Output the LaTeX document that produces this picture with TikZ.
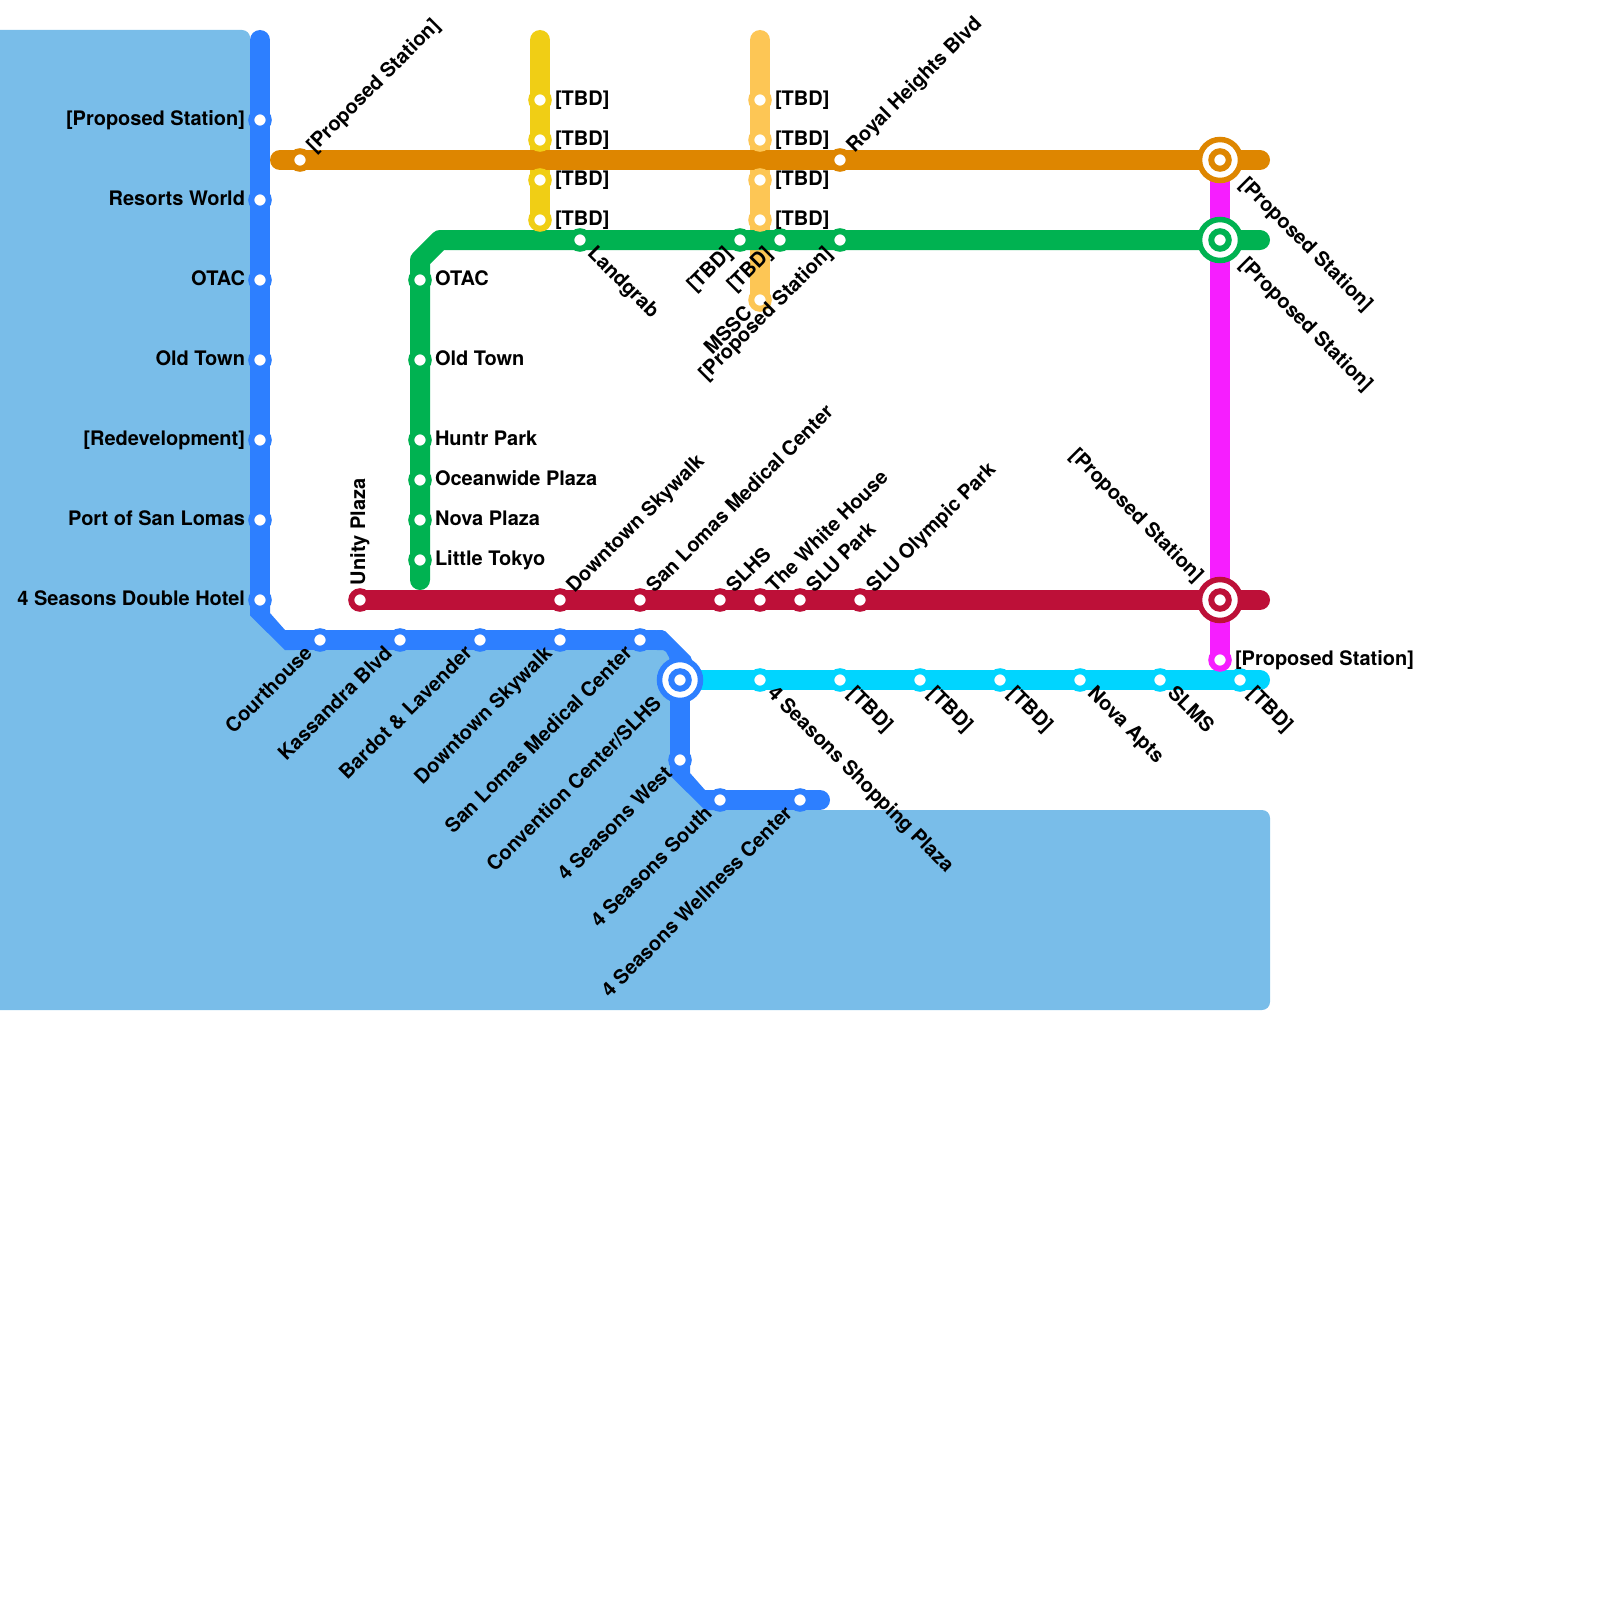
\documentclass[tikz,border=0pt]{standalone}
\usepackage{fontspec}
\setmainfont{TeX Gyre Heros}
\usetikzlibrary{calc}
\definecolor{water}{HTML}{79BDE9}
\definecolor{cblue}{HTML}{2D7FFF}
\definecolor{ccyan}{HTML}{00D5FF}
\definecolor{corange}{HTML}{DE8600}
\definecolor{cgreen}{HTML}{00B251}
\definecolor{cred}{HTML}{BD1038}
\definecolor{cmag}{HTML}{F61EFF}
\definecolor{cyellow}{HTML}{F0CE15}
\definecolor{clight}{HTML}{FDC655}
\pgfdeclarelayer{waterlayer}
\pgfdeclarelayer{linelayer}
\pgfsetlayers{waterlayer,linelayer,main}
\tikzset{
  metro/.style={line width=10pt,line cap=round,line join=round,draw=#1},
  station/.style={circle,fill=white,draw=#1,line width=3pt,minimum size=8.75pt,inner sep=0pt,outer sep=0pt},
  hub/.style={circle,fill=white,draw=#1,line width=2.75pt,minimum size=20.5pt,inner sep=0pt,outer sep=0pt},
  lbl/.style={font=\bfseries\fontsize{10pt}{12pt}\selectfont,inner sep=0pt,outer sep=0pt,text=black}
}
\newcounter{lab}
\newcommand\St[4]{\node[station=#1] (#2) at (#3,#4) {};}
\newcommand\Hb[4]{\node[hub=#1] (#2h) at (#3,#4) {};\node[station=#1] (#2) at (#3,#4) {};}
\newcommand\LL[2]{\stepcounter{lab}\node[lbl,anchor=base east] (lab\thelab) at ($(#1)+(-15,5.5)$) {#2};}
\newcommand\LR[2]{\stepcounter{lab}\node[lbl,anchor=base west] (lab\thelab) at ($(#1)+(15,5.5)$) {#2};}
\newcommand\LUR[2]{\stepcounter{lab}\node[lbl,rotate=45,anchor=base west] (lab\thelab) at ($(#1)+(14.5,-6.7)$) {#2};}
\newcommand\LDR[2]{\stepcounter{lab}\node[lbl,rotate=-45,anchor=base west] (lab\thelab) at ($(#1)+(6.7,14.5)$) {#2};}
\newcommand\LDL[2]{\stepcounter{lab}\node[lbl,rotate=45,anchor=base east] (lab\thelab) at ($(#1)+(-6.7,14.5)$) {#2};}
\newcommand\HDR[2]{\stepcounter{lab}\node[lbl,rotate=-45,anchor=base west] (lab\thelab) at ($(#1)+(18.5,25.5)$) {#2};}
\newcommand\HDL[2]{\stepcounter{lab}\node[lbl,rotate=45,anchor=base east] (lab\thelab) at ($(#1)+(-17.5,24.7)$) {#2};}
\newcommand\HUL[2]{\stepcounter{lab}\node[lbl,rotate=-45,anchor=base east] (lab\thelab) at ($(#1)+(-24.5,-17)$) {#2};}
\begin{document}
\begin{tikzpicture}[x=0.5pt,y=-0.5pt]
\useasboundingbox (0,0) rectangle (1600,1600);
% line ends and bends
\coordinate (bTop) at (260,40);
\coordinate (bA) at (260,606);
\coordinate (bB) at (295,640);
\coordinate (bC) at (655,640);
\coordinate (bD) at (680,680);
\coordinate (bE) at (680,766);
\coordinate (bF) at (715,800);
\coordinate (bEnd) at (820,800);
\coordinate (oStart) at (280,160);
\coordinate (oEnd) at (1260,160);
\coordinate (gStart) at (420,580);
\coordinate (gA) at (420,260);
\coordinate (gB) at (440,240);
\coordinate (gEnd) at (1260,240);
\coordinate (yTop) at (540,40);
\coordinate (lTop) at (760,40);
\coordinate (rEnd) at (1260,600);
\coordinate (cEnd) at (1260,680);
% stations: blue
\St{cblue}{b1}{260}{120}\St{cblue}{b2}{260}{200}\St{cblue}{b3}{260}{280}\St{cblue}{b4}{260}{360}
\St{cblue}{b5}{260}{440}\St{cblue}{b6}{260}{520}\St{cblue}{b7}{260}{600}
\St{cblue}{b8}{320}{640}\St{cblue}{b9}{400}{640}\St{cblue}{b10}{480}{640}\St{cblue}{b11}{560}{640}\St{cblue}{b12}{640}{640}
\Hb{cblue}{bx}{680}{680}
\St{cblue}{b14}{680}{760}\St{cblue}{b15}{720}{800}\St{cblue}{b16}{800}{800}
% orange
\St{corange}{o1}{300}{160}\St{corange}{o2}{840}{160}\Hb{corange}{ox}{1220}{160}
% green
\St{cgreen}{g1}{420}{280}\St{cgreen}{g2}{420}{360}\St{cgreen}{g3}{420}{440}\St{cgreen}{g4}{420}{480}\St{cgreen}{g5}{420}{520}\St{cgreen}{g6}{420}{560}
\St{cgreen}{g7}{580}{240}\St{cgreen}{g8}{740}{240}\St{cgreen}{g9}{780}{240}\St{cgreen}{g10}{840}{240}\Hb{cgreen}{gx}{1220}{240}
% yellow
\St{cyellow}{y1}{540}{100}\St{cyellow}{y2}{540}{140}\St{cyellow}{y3}{540}{180}\St{cyellow}{y4}{540}{220}
% light orange
\St{clight}{l1}{760}{100}\St{clight}{l2}{760}{140}\St{clight}{l3}{760}{180}\St{clight}{l4}{760}{220}\St{clight}{l5}{760}{300}
% red
\St{cred}{r1}{360}{600}\St{cred}{r2}{560}{600}\St{cred}{r3}{640}{600}\St{cred}{r4}{720}{600}\St{cred}{r5}{760}{600}\St{cred}{r6}{800}{600}\St{cred}{r7}{860}{600}\Hb{cred}{rx}{1220}{600}
% cyan
\St{ccyan}{c1}{760}{680}\St{ccyan}{c2}{840}{680}\St{ccyan}{c3}{920}{680}\St{ccyan}{c4}{1000}{680}\St{ccyan}{c5}{1080}{680}\St{ccyan}{c6}{1160}{680}\St{ccyan}{c7}{1240}{680}
% magenta
\St{cmag}{m1}{1220}{660}
% water
\begin{pgfonlayer}{waterlayer}
\fill[water] (0,30) [rounded corners=4pt] -- (250,30) [sharp corners] -- (260,610) -- (285,640) -- (663,640) -- (683,660) -- (680,775) -- (705,800) -- (720,810) [rounded corners=4pt] -- (1270,810) -- (1270,1010) [sharp corners] -- (0,1010) -- cycle;
\end{pgfonlayer}
% lines
\begin{pgfonlayer}{linelayer}
\draw[metro=cmag] (oxh.center) -- (m1.center);
\draw[metro=clight] (lTop) -- (l5.center);
\draw[metro=cyellow] (yTop) -- (y4.center);
\draw[metro=corange] (oStart) -- (oEnd);
\draw[metro=cgreen] (gStart) -- (gA) -- (gB) -- (gEnd);
\draw[metro=cred] (r1.center) -- (rEnd);
\draw[metro=ccyan] (bxh.center) -- (cEnd);
\draw[metro=cblue] (bTop) -- (bA);
\fill[cblue] (250,606) -- (270,606) -- (270,613) -- (285,630) -- (295,630) -- (295,650) -- (285,650) -- (250,615.5) -- cycle;
\draw[metro=cblue] (bB) -- (bC);
\fill[cblue,rounded corners=1pt] (655,630) -- (664,630) -- (692,658) -- (692,682) -- (670,682) -- (670,659) -- (665,650) -- (655,650) -- cycle;
\draw[metro=cblue] (bD) -- (bE);
\fill[cblue] (670,766) -- (690,766) -- (690,773) -- (705,790) -- (715,790) -- (715,810) -- (705,810) -- (670,775.5) -- cycle;
\draw[metro=cblue] (bF) -- (bEnd);
\end{pgfonlayer}
% labels
\LL{b1}{[Proposed Station]}\LL{b2}{Resorts World}\LL{b3}{OTAC}\LL{b4}{Old Town}\LL{b5}{[Redevelopment]}\LL{b6}{Port of San Lomas}\LL{b7}{4 Seasons Double Hotel}
\LDL{b8}{Courthouse}\LDL{b9}{Kassandra Blvd}\LDL{b10}{Bardot \& Lavender}\LDL{b11}{Downtown Skywalk}\LDL{b12}{San Lomas Medical Center}
\HDL{bx}{Convention Center/SLHS}
\LDL{b14}{4 Seasons West}\LDL{b15}{4 Seasons South}\LDL{b16}{4 Seasons Wellness Center}
\LUR{o1}{[Proposed Station]}\LUR{o2}{Royal Heights Blvd}\HDR{ox}{[Proposed Station]}
\LR{g1}{OTAC}\LR{g2}{Old Town}\LR{g3}{Huntr Park}\LR{g4}{Oceanwide Plaza}\LR{g5}{Nova Plaza}\LR{g6}{Little Tokyo}
\LDR{g7}{Landgrab}\LDL{g8}{[TBD]}\LDL{g9}{[TBD]}\LDL{g10}{[Proposed Station]}\HDR{gx}{[Proposed Station]}
\LR{y1}{[TBD]}\LR{y2}{[TBD]}\LR{y3}{[TBD]}\LR{y4}{[TBD]}
\LR{l1}{[TBD]}\LR{l2}{[TBD]}\LR{l3}{[TBD]}\LR{l4}{[TBD]}\LDL{l5}{MSSC}
\stepcounter{lab}\node[lbl,rotate=90,anchor=base west] (lab\thelab) at ($(r1)+(5,-15)$) {Unity Plaza};
\LUR{r2}{Downtown Skywalk}\LUR{r3}{San Lomas Medical Center}\LUR{r4}{SLHS}\LUR{r5}{The White House}\LUR{r6}{SLU Park}\LUR{r7}{SLU Olympic Park}
\HUL{rx}{[Proposed Station]}
\LDR{c1}{4 Seasons Shopping Plaza}\LDR{c2}{[TBD]}\LDR{c3}{[TBD]}\LDR{c4}{[TBD]}\LDR{c5}{Nova Apts}\LDR{c6}{SLMS}\LDR{c7}{[TBD]}
\LR{m1}{[Proposed Station]}
\end{tikzpicture}
\end{document}
